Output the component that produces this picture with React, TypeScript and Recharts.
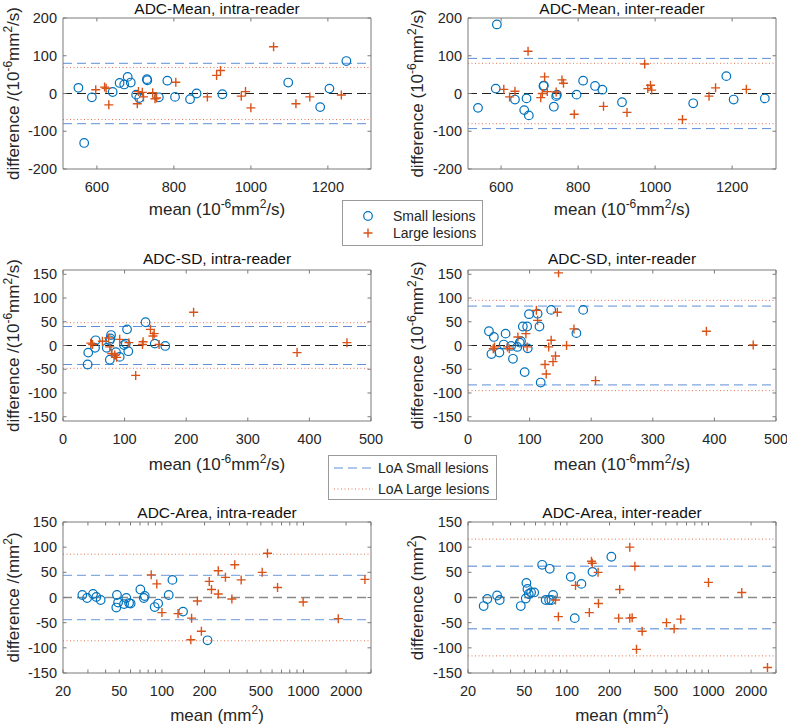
import React from "react";
import { ScatterChart, Scatter, XAxis, YAxis, ReferenceLine, Label } from "recharts";

const BLUE = "#0072BD";
const RED = "#D95319";
const AXIS = "#7a7a7a";
const TEXT = "#262626";
const FONT = "'Liberation Sans', Arial, sans-serif";

// [mean, difference] pairs
const meanIntraSmall = [[552,15],[567,-131],[587,-10],[641,4],[659,28],[671,24],[680,44],[688,29],[702,-3],[710,-12],[730,38],[731,35],[761,-10],[783,34],[803,-9],[842,-15],[859,0],[926,-2],[1097,29],[1180,-36],[1204,13],[1248,86]];
const meanIntraLarge = [[597,10],[620,17],[624,14],[631,-30],[705,-27],[708,5],[718,3],[721,-9],[745,2],[751,-14],[755,-12],[805,30],[887,-9],[911,48],[921,61],[975,-7],[986,5],[1000,-38],[1059,124],[1117,-27],[1153,-9],[1235,-4]];

const meanInterSmall = [[540,-38],[589,183],[586,13],[636,-16],[660,-44],[666,-13],[672,-58],[710,20],[711,21],[737,-35],[743,-7],[745,-3],[796,-3],[813,34],[844,20],[863,10],[914,-23],[1099,-26],[1185,46],[1204,-16],[1285,-13]];
const meanInterLarge = [[607,11],[622,-9],[636,6],[670,112],[703,-11],[707,0],[713,44],[720,5],[743,4],[758,36],[762,27],[790,-55],[866,-34],[927,-50],[973,78],[981,13],[988,22],[991,9],[1071,-69],[1140,-7],[1157,15],[1237,11]];

const sdIntraSmall = [[40,-40],[41,-15],[52,-5],[53,11],[71,-5],[76,11],[78,22],[77,15],[76,-30],[86,-14],[92,-24],[99,1],[102,4],[104,34],[106,-12],[134,49],[149,4],[166,-1]];
const sdIntraLarge = [[45,5],[48,2],[64,9],[74,16],[76,-3],[79,-17],[84,-20],[87,-25],[92,13],[107,6],[118,-63],[129,2],[130,8],[142,34],[146,20],[148,25],[156,2],[212,70],[380,-15],[461,6]];

const sdInterSmall = [[34,30],[42,18],[38,-18],[51,-15],[58,2],[61,25],[70,-1],[73,-28],[80,-3],[84,6],[86,9],[89,40],[96,40],[97,-6],[99,66],[92,-56],[113,67],[116,40],[118,-78],[135,75],[176,26],[187,75]];
const sdInterLarge = [[41,-7],[43,-3],[64,-3],[67,-7],[81,18],[94,25],[96,-3],[111,74],[113,53],[131,-3],[135,11],[145,70],[142,-22],[138,-34],[125,-40],[127,-60],[160,0],[172,35],[207,-74],[147,153],[387,30],[463,1]];

const areaIntraSmall = [[27.4,5],[29.6,-1],[32.6,7],[34.4,1],[36.9,-5],[47.6,-20],[48.1,5],[49,-10],[54,-13],[56,-1],[58.6,-11],[60.1,-12],[70.4,16],[75.6,3],[74.5,-1],[88.9,-19],[94,-12],[111.7,5],[118.6,35],[141,-28],[210,-85]];
const areaIntraLarge = [[84,45],[92,27],[100,-30],[130,-32],[162,-41],[160,-84],[178,-7],[190,-67],[216,32],[224,16],[250,53],[250,7],[281,40],[312,-3],[327,65],[363,35],[511,50],[557,88],[656,20],[995,-9],[1762,-42],[2718,36]];

const areaInterSmall = [[25.8,-17],[27.4,-3],[32.1,4],[33.5,-5],[47.2,-17],[51.7,29],[51.2,-2],[52.6,17],[53.7,7],[55.8,10],[58.7,10],[66.8,65],[70.8,-5],[75.6,57],[74.8,-5],[79.8,5],[77.7,-5],[106.4,41],[113.6,-41],[126.6,27],[151.5,51],[206,81]];
const areaInterLarge = [[83,-5],[87,-38],[115,24],[144,-30],[149,72],[151,68],[166,50],[167,-12],[236,16],[232,-41],[278,100],[278,-41],[289,-40],[302,62],[310,-103],[340,-67],[505,-50],[572,-62],[637,-43],[1000,30],[1719,10],[2612,-139]];

// limits of agreement: [small lesions, large lesions]
const loaMeanIntra = [80, 69];
const loaMeanInter = [93, 80];
const loaSdIntra = [40, 48];
const loaSdInter = [83, 95];
const loaAreaIntra = [44, 86];
const loaAreaInter = [62, 116];

const meanTicksX = [600, 800, 1000, 1200];
const meanTicksY = [-200, -100, 0, 100, 200];
const sdTicksX = [0, 100, 200, 300, 400, 500];
const sdTicksY = [-150, -100, -50, 0, 50, 100, 150];
const areaTicksX = [20, 30, 40, 50, 60, 70, 80, 90, 100, 200, 300, 400, 500, 600, 700, 800, 900, 1000, 2000, 3000];
const areaLabelsX = [20, 50, 100, 200, 500, 1000, 2000];
const areaTicksY = [-150, -100, -50, 0, 50, 100, 150];

const pts = (a: number[][]) => a.map(([x, y]) => ({ x, y }));

const Circle = (p: any) => (
  <circle cx={p.cx} cy={p.cy} r={4.3} fill="none" stroke={BLUE} strokeWidth={1.2} />
);
const Plus = (p: any) => (
  <path
    d={`M${p.cx - 4.5},${p.cy}H${p.cx + 4.5}M${p.cx},${p.cy - 4.5}V${p.cy + 4.5}`}
    stroke={RED}
    strokeWidth={1.4}
    fill="none"
  />
);

const TL = 3.5; // inward tick length
const LABEL_FS = 17;
const SUP_FS = 12;

function unitSpans(unit: "adc" | "area") {
  if (unit === "area")
    return [
      <tspan key="u1">(mm</tspan>,
      <tspan key="u2" dy={-7} fontSize={SUP_FS}>2</tspan>,
      <tspan key="u3" dy={7}>)</tspan>,
    ];
  return [
    <tspan key="u1">(10</tspan>,
    <tspan key="u2" dy={-7} fontSize={SUP_FS}>-6</tspan>,
    <tspan key="u3" dy={7}>mm</tspan>,
    <tspan key="u4" dy={-7} fontSize={SUP_FS}>2</tspan>,
    <tspan key="u5" dy={7}>/s)</tspan>,
  ];
}

type PanelProps = {
  title: string;
  x0: number; y0: number; W: number; H: number;
  plotL: number; plotT: number; plotW: number; plotH: number;
  xDomain: [number, number]; yDomain: [number, number];
  xTicks: number[]; xLabels?: number[]; yTicks: number[];
  log?: boolean;
  small: number[][]; large: number[][]; loa: number[];
  slash: boolean; unit: "adc" | "area"; row3?: boolean;
  titleY: number; xLabelY: number; yLabelX: number;
};

function Panel(p: PanelProps) {
  const YW = 40, RW = 4, TH = 4, BH = 30;
  const margin = {
    left: p.plotL - p.x0 - YW,
    right: p.x0 + p.W - (p.plotL + p.plotW) - RW,
    top: p.plotT - p.y0 - TH,
    bottom: p.y0 + p.H - (p.plotT + p.plotH) - BH,
  };
  const cx = p.plotL - p.x0 + p.plotW / 2;
  const cy = p.plotT - p.y0 + p.plotH / 2;
  const zeroColor = p.row3 ? "#8a8a8a" : "#222";
  const zeroW = p.row3 ? 1.6 : 1;
  const blueLoa = p.row3 ? "#86ace2" : "#5d8fd8";
  const blueW = p.row3 ? 1.4 : 1;
  const redLoa = "#e5734f";

  const xTick = (q: any) => {
    const v = q.payload.value;
    const show = !p.xLabels || p.xLabels.includes(v);
    return (
      <g>
        <line x1={q.x} x2={q.x} y1={q.y} y2={q.y - TL} stroke={AXIS} />
        {show && (
          <text x={q.x} y={q.y + 23} textAnchor="middle" fontSize={14.5} fill={TEXT} fontFamily={FONT}>
            {v}
          </text>
        )}
      </g>
    );
  };
  const xTopTick = (q: any) => (
    <line x1={q.x} x2={q.x} y1={q.y} y2={q.y + TL} stroke={AXIS} />
  );
  const yTick = (q: any) => (
    <g>
      <line x1={q.x} x2={q.x + TL} y1={q.y} y2={q.y} stroke={AXIS} />
      <text x={q.x - 6} y={q.y + 5} textAnchor="end" fontSize={14.5} fill={TEXT} fontFamily={FONT}>
        {q.payload.value}
      </text>
    </g>
  );
  const yRightTick = (q: any) => (
    <line x1={q.x} x2={q.x - TL} y1={q.y} y2={q.y} stroke={AXIS} />
  );

  const scale = p.log ? "log" : "linear";

  return (
    <div style={{ position: "absolute", left: p.x0, top: p.y0 }}>
      <ScatterChart width={p.W} height={p.H} margin={margin}>
        <XAxis
          xAxisId={0}
          dataKey="x"
          type="number"
          scale={scale}
          domain={p.xDomain}
          allowDataOverflow
          ticks={p.xTicks}
          interval={0}
          height={BH}
          tickSize={0}
          tickMargin={0}
          tickLine={false}
          axisLine={{ stroke: AXIS }}
          tick={xTick}
        >
          <Label
            content={() => (
              <text x={cx} y={p.xLabelY - p.y0} textAnchor="middle" fontSize={LABEL_FS} fill={TEXT} fontFamily={FONT}>
                <tspan>mean </tspan>
                {unitSpans(p.unit)}
              </text>
            )}
          />
        </XAxis>
        <XAxis
          xAxisId="top"
          orientation="top"
          dataKey="x"
          type="number"
          scale={scale}
          domain={p.xDomain}
          allowDataOverflow
          ticks={p.xTicks}
          interval={0}
          height={TH}
          tickSize={0}
          tickMargin={0}
          tickLine={false}
          axisLine={{ stroke: AXIS }}
          tick={xTopTick}
        >
          <Label
            content={() => (
              <text x={cx} y={p.titleY - p.y0} textAnchor="middle" fontSize={15.5} fill="#111" fontFamily={FONT}>
                {p.title}
              </text>
            )}
          />
        </XAxis>
        <YAxis
          yAxisId={0}
          dataKey="y"
          type="number"
          domain={p.yDomain}
          allowDataOverflow
          ticks={p.yTicks}
          interval={0}
          width={YW}
          tickSize={0}
          tickMargin={0}
          tickLine={false}
          axisLine={{ stroke: AXIS }}
          tick={yTick}
        >
          <Label
            content={() => (
              <text
                transform={`translate(${p.yLabelX - p.x0},${cy}) rotate(-90)`}
                x={0}
                y={6}
                textAnchor="middle"
                fontSize={LABEL_FS}
                fill={TEXT}
                fontFamily={FONT}
              >
                <tspan>{p.slash ? "difference /" : "difference "}</tspan>
                {unitSpans(p.unit)}
              </text>
            )}
          />
        </YAxis>
        <YAxis
          yAxisId="right"
          orientation="right"
          dataKey="y"
          type="number"
          domain={p.yDomain}
          allowDataOverflow
          ticks={p.yTicks}
          interval={0}
          width={RW}
          tickSize={0}
          tickMargin={0}
          tickLine={false}
          axisLine={{ stroke: AXIS }}
          tick={yRightTick}
        />
        <ReferenceLine y={0} stroke={zeroColor} strokeWidth={zeroW} strokeDasharray="9 5" />
        <ReferenceLine y={p.loa[0]} stroke={blueLoa} strokeWidth={blueW} strokeDasharray="9 5" />
        <ReferenceLine y={-p.loa[0]} stroke={blueLoa} strokeWidth={blueW} strokeDasharray="9 5" />
        <ReferenceLine y={p.loa[1]} stroke={redLoa} strokeDasharray="1 2.5" />
        <ReferenceLine y={-p.loa[1]} stroke={redLoa} strokeDasharray="1 2.5" />
        <Scatter data={pts(p.small)} shape={Circle} isAnimationActive={false} />
        <Scatter data={pts(p.large)} shape={Plus} isAnimationActive={false} />
      </ScatterChart>
    </div>
  );
}

const left = { x0: 0, W: 392, plotL: 63, plotW: 308, yLabelX: 13 };
const right = { x0: 395, W: 392, plotL: 468, plotW: 308, yLabelX: 417 };
const row1 = { y0: 0, H: 230, plotT: 18, plotH: 151, titleY: 14, xLabelY: 215 };
const row2 = { y0: 248, H: 232, plotT: 270, plotH: 151, titleY: 264, xLabelY: 470 };
const row3 = { y0: 500, H: 225, plotT: 522, plotH: 151, titleY: 518, xLabelY: 721 };

function LegendMarkers() {
  return (
    <div
      style={{
        position: "absolute", left: 342, top: 200, width: 139, height: 44,
        border: "1px solid #9a9a9a", background: "#fff",
      }}
    >
      <svg width={139} height={44} style={{ position: "absolute", left: 0, top: 0 }}>
        <Circle cx={25} cy={15} />
        <Plus cx={25} cy={32} />
        <text x={50} y={20} fontSize={14} fill={TEXT} fontFamily={FONT}>Small lesions</text>
        <text x={50} y={37} fontSize={14} fill={TEXT} fontFamily={FONT}>Large lesions</text>
      </svg>
    </div>
  );
}

function LegendLoa() {
  return (
    <div
      style={{
        position: "absolute", left: 328, top: 455, width: 167, height: 43,
        border: "1px solid #9a9a9a", background: "#fff",
      }}
    >
      <svg width={167} height={43} style={{ position: "absolute", left: 0, top: 0 }}>
        <line x1={5} x2={44} y1={12} y2={12} stroke="#5d8fd8" strokeDasharray="9 5" />
        <line x1={5} x2={44} y1={33} y2={33} stroke="#e5734f" strokeDasharray="1 2.5" />
        <text x={49} y={17} fontSize={14} fill={TEXT} fontFamily={FONT}>LoA Small lesions</text>
        <text x={49} y={38} fontSize={14} fill={TEXT} fontFamily={FONT}>LoA Large lesions</text>
      </svg>
    </div>
  );
}

export default function App() {
  return (
    <div style={{ position: "relative", width: 787, height: 725, background: "#fff", overflow: "hidden" }}>
      <style>{"body{margin:0}"}</style>
      <Panel
        {...left} {...row1}
        title="ADC-Mean, intra-reader"
        xDomain={[512, 1312]} yDomain={[-200, 200]}
        xTicks={meanTicksX} yTicks={meanTicksY}
        small={meanIntraSmall} large={meanIntraLarge} loa={loaMeanIntra}
        slash unit="adc"
      />
      <Panel
        {...right} {...row1}
        title="ADC-Mean, inter-reader"
        xDomain={[514, 1314]} yDomain={[-200, 200]}
        xTicks={meanTicksX} yTicks={meanTicksY}
        small={meanInterSmall} large={meanInterLarge} loa={loaMeanInter}
        slash={false} unit="adc"
      />
      <Panel
        {...left} {...row2}
        title="ADC-SD, intra-reader"
        xDomain={[0, 500]} yDomain={[-159, 159]}
        xTicks={sdTicksX} yTicks={sdTicksY}
        small={sdIntraSmall} large={sdIntraLarge} loa={loaSdIntra}
        slash unit="adc"
      />
      <Panel
        {...right} {...row2}
        title="ADC-SD, inter-reader"
        xDomain={[0, 500]} yDomain={[-159, 159]}
        xTicks={sdTicksX} yTicks={sdTicksY}
        small={sdInterSmall} large={sdInterLarge} loa={loaSdInter}
        slash={false} unit="adc"
      />
      <Panel
        {...left} {...row3}
        title="ADC-Area, intra-reader"
        xDomain={[20, 3000]} yDomain={[-150, 150]} log
        xTicks={areaTicksX} xLabels={areaLabelsX} yTicks={areaTicksY}
        small={areaIntraSmall} large={areaIntraLarge} loa={loaAreaIntra}
        slash unit="area" row3
      />
      <Panel
        {...right} {...row3}
        title="ADC-Area, inter-reader"
        xDomain={[20, 3000]} yDomain={[-150, 150]} log
        xTicks={areaTicksX} xLabels={areaLabelsX} yTicks={areaTicksY}
        small={areaInterSmall} large={areaInterLarge} loa={loaAreaInter}
        slash={false} unit="area" row3
      />
      <LegendMarkers />
      <LegendLoa />
    </div>
  );
}
